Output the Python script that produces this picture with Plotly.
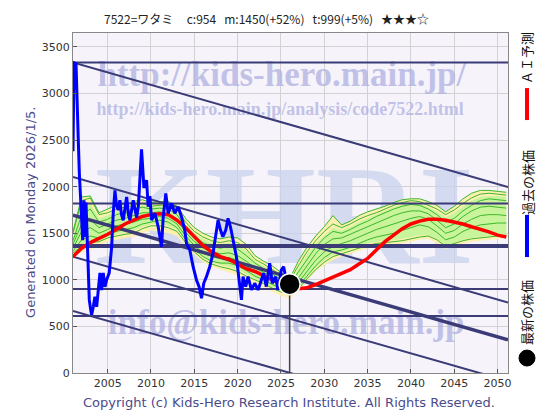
import plotly.graph_objects as go

# ---------------- data ----------------
price_years = [2001.0, 2001.05, 2001.12, 2001.35, 2001.42, 2001.61, 2001.73, 2001.88, 2002.0, 2002.12,
               2002.27, 2002.42, 2002.5, 2002.65, 2002.76, 2002.88, 2003.04, 2003.15, 2003.34, 2003.53,
               2003.73, 2003.92, 2004.11, 2004.3, 2004.49, 2004.69, 2004.88, 2005.18, 2005.46, 2005.64,
               2005.84, 2006.02, 2006.22, 2006.41, 2006.6, 2006.8, 2007.0, 2007.19, 2007.4, 2007.57,
               2007.95, 2008.15, 2008.34, 2008.55, 2008.72, 2008.91, 2009.18, 2009.3, 2009.49, 2009.68,
               2009.87, 2010.07, 2010.45, 2010.83, 2011.22, 2011.41, 2011.71, 2011.98, 2012.37, 2012.75,
               2013.13, 2013.52, 2013.9, 2014.1, 2014.48, 2014.86, 2015.25, 2015.55, 2015.83, 2016.09,
               2016.4, 2016.78, 2017.16, 2017.47, 2017.74, 2018.02, 2018.3, 2018.63, 2018.89, 2019.17,
               2019.47, 2019.86, 2020.12, 2020.24, 2020.44, 2020.62, 2020.93, 2021.2, 2021.59, 2021.97,
               2022.36, 2022.74, 2023.0, 2023.31, 2023.7, 2024.0, 2024.39, 2024.65, 2025.04, 2025.31,
               2025.6, 2025.8]
price_values = [2380, 2720, 3330, 3320, 3030, 2500, 2145, 1855, 1565, 1425,
                1855, 1460, 1830, 1425, 1075, 785, 680, 625, 710, 820,
                710, 925, 1075, 890, 1075, 925, 1000, 1075, 1350, 1710,
                1960, 1800, 1750, 1855, 1700, 1640, 1800, 1890, 1700, 1640,
                1855, 1750, 1670, 1800, 2145, 2400, 2000, 2000, 2070, 1785,
                1900, 1640, 1715, 1570, 1355, 1677, 1927, 1713, 1820, 1715,
                1784, 1677, 1534, 1392, 1320, 1141, 999, 927, 803, 963,
                1034, 1141, 1285, 1463, 1641, 1534, 1463, 1534, 1660, 1570,
                1427, 1248, 1034, 927, 785, 1034, 927, 1034, 892, 963,
                892, 999, 1070, 927, 1178, 963, 1034, 892, 1106, 1141,
                1000, 954]

latest_year = 2026.0
latest_value = 954

band_years = list(range(2001, 2052))
ai_forecast = [1250, 1340, 1400, 1440, 1490, 1540, 1600, 1640, 1680, 1700,
               1710, 1700, 1640, 1560, 1460, 1370, 1300, 1250, 1220, 1170,
               1120, 1090, 1040, 1000, 960, 925, 905, 915, 950, 990,
               1020, 1060, 1110, 1170, 1230, 1320, 1410, 1480, 1550, 1600,
               1630, 1650, 1650, 1640, 1620, 1600, 1570, 1545, 1515, 1480, 1460]

yellow_upper = [1520, 1890, 1900, 1720, 1760, 1800, 1810, 1840, 1860, 1830, 1840, 1840, 1790, 1660, 1560, 1500,
                1460, 1440, 1460, 1450, 1380, 1260, 1200, 1150, 1080, 1010, 1200, 1350, 1470, 1570, 1690, 1590,
                1630, 1690, 1730, 1760, 1790, 1830, 1860, 1870, 1870, 1840, 1800, 1730, 1790, 1870, 1930, 1960,
                1960, 1950, 1940]
yellow_lower = [1270, 1290, 1320, 1370, 1410, 1430, 1450, 1460, 1500, 1530, 1520, 1500, 1470, 1360, 1270, 1190,
                1140, 1110, 1080, 1050, 1000, 960, 920, 870, 830, 800, 870, 990, 1090, 1160, 1210, 1250,
                1280, 1310, 1340, 1360, 1370, 1380, 1390, 1410, 1430, 1440, 1390, 1330, 1360, 1390, 1410, 1420,
                1430, 1440, 1450]
green_upper = [1460, 1800, 1820, 1660, 1690, 1730, 1750, 1780, 1800, 1780, 1790, 1790, 1740, 1600, 1500, 1440,
               1400, 1380, 1400, 1380, 1310, 1200, 1150, 1090, 1030, 970, 1120, 1270, 1390, 1480, 1560, 1530,
               1570, 1620, 1660, 1700, 1740, 1780, 1810, 1830, 1820, 1780, 1730, 1670, 1720, 1790, 1850, 1890,
               1900, 1900, 1890]
green_lower = [1300, 1380, 1420, 1420, 1460, 1490, 1510, 1530, 1570, 1600, 1600, 1580, 1540, 1420, 1320, 1240,
               1190, 1160, 1140, 1110, 1060, 1010, 970, 920, 880, 850, 910, 1030, 1130, 1210, 1270, 1300,
               1330, 1360, 1390, 1410, 1420, 1430, 1440, 1460, 1480, 1480, 1440, 1370, 1400, 1430, 1450, 1460,
               1470, 1480, 1490]

sim_1 = [1500, 1850, 1880, 1700, 1720, 1760, 1780, 1800, 1820, 1790, 1800, 1810, 1760, 1620, 1520, 1460, 1420,
         1400, 1420, 1400, 1330, 1220, 1170, 1110, 1050, 990, 1150, 1300, 1420, 1520, 1600, 1560, 1600, 1650,
         1690, 1720, 1760, 1800, 1830, 1850, 1840, 1800, 1760, 1700, 1750, 1820, 1880, 1920, 1930, 1920, 1910]
sim_2 = [1420, 1700, 1760, 1620, 1650, 1700, 1720, 1760, 1780, 1760, 1770, 1760, 1700, 1560, 1460, 1400, 1360,
         1340, 1360, 1330, 1260, 1180, 1120, 1060, 1000, 950, 1080, 1220, 1350, 1450, 1520, 1500, 1540, 1590,
         1630, 1680, 1720, 1760, 1790, 1810, 1800, 1760, 1700, 1620, 1660, 1740, 1800, 1850, 1870, 1860, 1850]
sim_3 = [1380, 1600, 1650, 1560, 1600, 1640, 1660, 1690, 1720, 1720, 1730, 1710, 1650, 1510, 1410, 1340, 1300,
         1280, 1290, 1260, 1200, 1130, 1080, 1030, 980, 930, 1020, 1150, 1280, 1380, 1440, 1450, 1490, 1530,
         1570, 1610, 1650, 1690, 1720, 1740, 1740, 1710, 1640, 1560, 1600, 1680, 1740, 1780, 1790, 1780, 1770]
sim_4 = [1340, 1520, 1560, 1500, 1540, 1580, 1600, 1620, 1650, 1660, 1680, 1660, 1600, 1470, 1370, 1290, 1250,
         1230, 1240, 1210, 1150, 1090, 1040, 990, 950, 910, 970, 1090, 1210, 1300, 1360, 1390, 1420, 1460,
         1500, 1540, 1570, 1600, 1630, 1660, 1680, 1650, 1580, 1500, 1530, 1600, 1650, 1690, 1700, 1700, 1690]
sim_5 = [1310, 1430, 1470, 1450, 1490, 1520, 1540, 1560, 1600, 1620, 1640, 1620, 1560, 1430, 1330, 1250, 1200,
         1180, 1180, 1150, 1100, 1040, 1000, 950, 910, 880, 930, 1040, 1150, 1240, 1300, 1320, 1350, 1390,
         1430, 1460, 1480, 1500, 1530, 1560, 1590, 1570, 1510, 1430, 1460, 1520, 1560, 1590, 1600, 1610, 1610]
sim_6 = [1290, 1360, 1400, 1410, 1450, 1470, 1490, 1500, 1550, 1580, 1580, 1560, 1520, 1400, 1300, 1220, 1170,
         1140, 1120, 1090, 1040, 1000, 960, 910, 870, 840, 900, 1010, 1110, 1190, 1250, 1280, 1310, 1340,
         1370, 1390, 1400, 1410, 1420, 1440, 1460, 1470, 1430, 1360, 1390, 1420, 1440, 1450, 1460, 1470, 1480]

level_lines = [3333, 1820, 1363, 902, 613]
level_widths = [2, 2, 4, 2, 2]
channel_x = [2001.0, 2051.2]
channel_start = [3333, 2105, 1695, 1248, 667]
channel_end = [1995, 756, 357, -87, -668]
channel_widths = [2, 2, 3.5, 2, 2]

x_range = [2001.0, 2051.2]
y_range = [0, 3650]
x_ticks = [2005, 2010, 2015, 2020, 2025, 2030, 2035, 2040, 2045, 2050]
y_ticks = [0, 500, 1000, 1500, 2000, 2500, 3000, 3500]

sp = "\u00a0"
title_text = ("7522=ワタミ" + sp * 5 + "c:954" + sp * 3 + "m:1450(+52%)" + sp * 3 + "t:999(+5%)"
              + sp * 3 + "★★★☆")
navy = "#3b3b78"

fig = go.Figure()

# watermark texts (drawn first so they sit beneath the data)
wm = [("http://kids-hero.main.jp/", 2025.1, 3172, 35, "rgba(176,176,226,0.75)"),
      ("http://kids-hero.main.jp/analysis/code7522.html", 2024.9, 2818, 18, "rgba(176,176,226,0.75)"),
      ("KHRI", 2025.4, 1560, 142, "rgba(200,210,236,0.75)"),
      ("info@kids-hero.main.jp", 2025.6, 517, 35, "rgba(176,176,226,0.75)")]
for t, x, y, s, c in wm:
    fig.add_trace(go.Scatter(x=[x], y=[y], mode="text", text=[t], textposition="middle center",
                             textfont=dict(family="Liberation Serif", size=s, color=c, weight="bold"),
                             hoverinfo="skip", showlegend=False))

# bands
fig.add_trace(go.Scatter(x=band_years, y=yellow_upper, mode="lines", line=dict(width=0),
                         hoverinfo="skip", showlegend=False))
fig.add_trace(go.Scatter(x=band_years, y=yellow_lower, mode="lines", line=dict(width=0),
                         fill="tonexty", fillcolor="rgba(255,240,170,0.9)", hoverinfo="skip", showlegend=False))
fig.add_trace(go.Scatter(x=band_years, y=green_upper, mode="lines", line=dict(width=0),
                         hoverinfo="skip", showlegend=False))
fig.add_trace(go.Scatter(x=band_years, y=green_lower, mode="lines", line=dict(width=0),
                         fill="tonexty", fillcolor="rgba(190,245,150,0.85)", hoverinfo="skip", showlegend=False))
for s in [yellow_upper, sim_1, sim_2, sim_3, sim_4, sim_5, sim_6]:
    fig.add_trace(go.Scatter(x=band_years, y=s, mode="lines", line=dict(color="#3cb82a", width=1),
                             hoverinfo="skip", showlegend=False))

# level and channel lines
for v, w in zip(level_lines, level_widths):
    fig.add_trace(go.Scatter(x=x_range, y=[v, v], mode="lines", line=dict(color=navy, width=w),
                             hoverinfo="skip", showlegend=False))
for a, b, w in zip(channel_start, channel_end, channel_widths):
    fig.add_trace(go.Scatter(x=channel_x, y=[a, b], mode="lines", line=dict(color=navy, width=w),
                             hoverinfo="skip", showlegend=False))

# AI forecast
fig.add_trace(go.Scatter(x=band_years, y=ai_forecast, mode="lines", line=dict(color="#ff0000", width=3.5),
                         showlegend=False))
# past prices
fig.add_trace(go.Scatter(x=price_years, y=price_values, mode="lines", line=dict(color="#0000ff", width=3),
                         showlegend=False))
# vertical marker line and latest price
fig.add_trace(go.Scatter(x=[latest_year, latest_year], y=[0, latest_value], mode="lines",
                         line=dict(color="#444444", width=1.5), hoverinfo="skip", showlegend=False))
fig.add_trace(go.Scatter(x=[latest_year], y=[latest_value], mode="markers",
                         marker=dict(color="black", size=21, line=dict(color="white", width=1.5)),
                         showlegend=False))

axis_common = dict(showgrid=True, gridcolor="#d2d2d2", gridwidth=1, showline=True, linecolor="#888888",
                   mirror=True, ticks="inside", ticklen=4, tickcolor="#555555", zeroline=False,
                   tickfont=dict(family="DejaVu Sans", size=11, color="#333333"))
fig.update_xaxes(range=x_range, tickvals=x_ticks, **axis_common)
fig.update_yaxes(range=y_range, tickvals=y_ticks, **axis_common)


def ann(text, x, y, size, color, family, angle=0):
    return dict(text=text, x=x, y=y, xref="paper", yref="paper", showarrow=False, textangle=angle,
                xanchor="center", yanchor="middle", font=dict(family=family, size=size, color=color))


annotations = [
    ann(title_text, 0.4437, 1.044, 12, "#222222", "Noto Sans CJK JP"),
    ann("Generated on Monday 2026/1/5.", -0.099, 0.4735, 13, "#4b4b8c", "DejaVu Sans", -90),
    ann("Copyright (c) Kids-Hero Research Institute. All Rights Reserved.", 0.4966, -0.088, 13,
        "#4b4b8c", "DejaVu Sans"),
    ann("ＡＩ予測", 1.0437, 0.9265, 13, "#111111", "Noto Sans CJK JP", -90),
    ann("過去の株価", 1.0437, 0.5588, 13, "#111111", "Noto Sans CJK JP", -90),
    ann("最新の株価", 1.0437, 0.1765, 13, "#111111", "Noto Sans CJK JP", -90),
]
shapes = [
    dict(type="line", xref="paper", yref="paper", x0=1.0437, x1=1.0437, y0=0.744, y1=0.838,
         line=dict(color="#ff0000", width=4)),
    dict(type="line", xref="paper", yref="paper", x0=1.0437, x1=1.0437, y0=0.341, y1=0.465,
         line=dict(color="#0000ff", width=4)),
    dict(type="circle", xref="paper", yref="paper", x0=1.0437 - 0.0184, x1=1.0437 + 0.0184,
         y0=0.044 - 0.0235, y1=0.044 + 0.0235, fillcolor="black", line=dict(color="black", width=1)),
]

# the page body has an 8px default margin, so the figure is 8px smaller and margins are reduced by 8
fig.update_layout(width=552, height=412, margin=dict(l=65, r=52, t=25, b=47),
                  paper_bgcolor="white", plot_bgcolor="#f6f4fa", showlegend=False,
                  annotations=annotations, shapes=shapes)

fig.write_html("out.html")
